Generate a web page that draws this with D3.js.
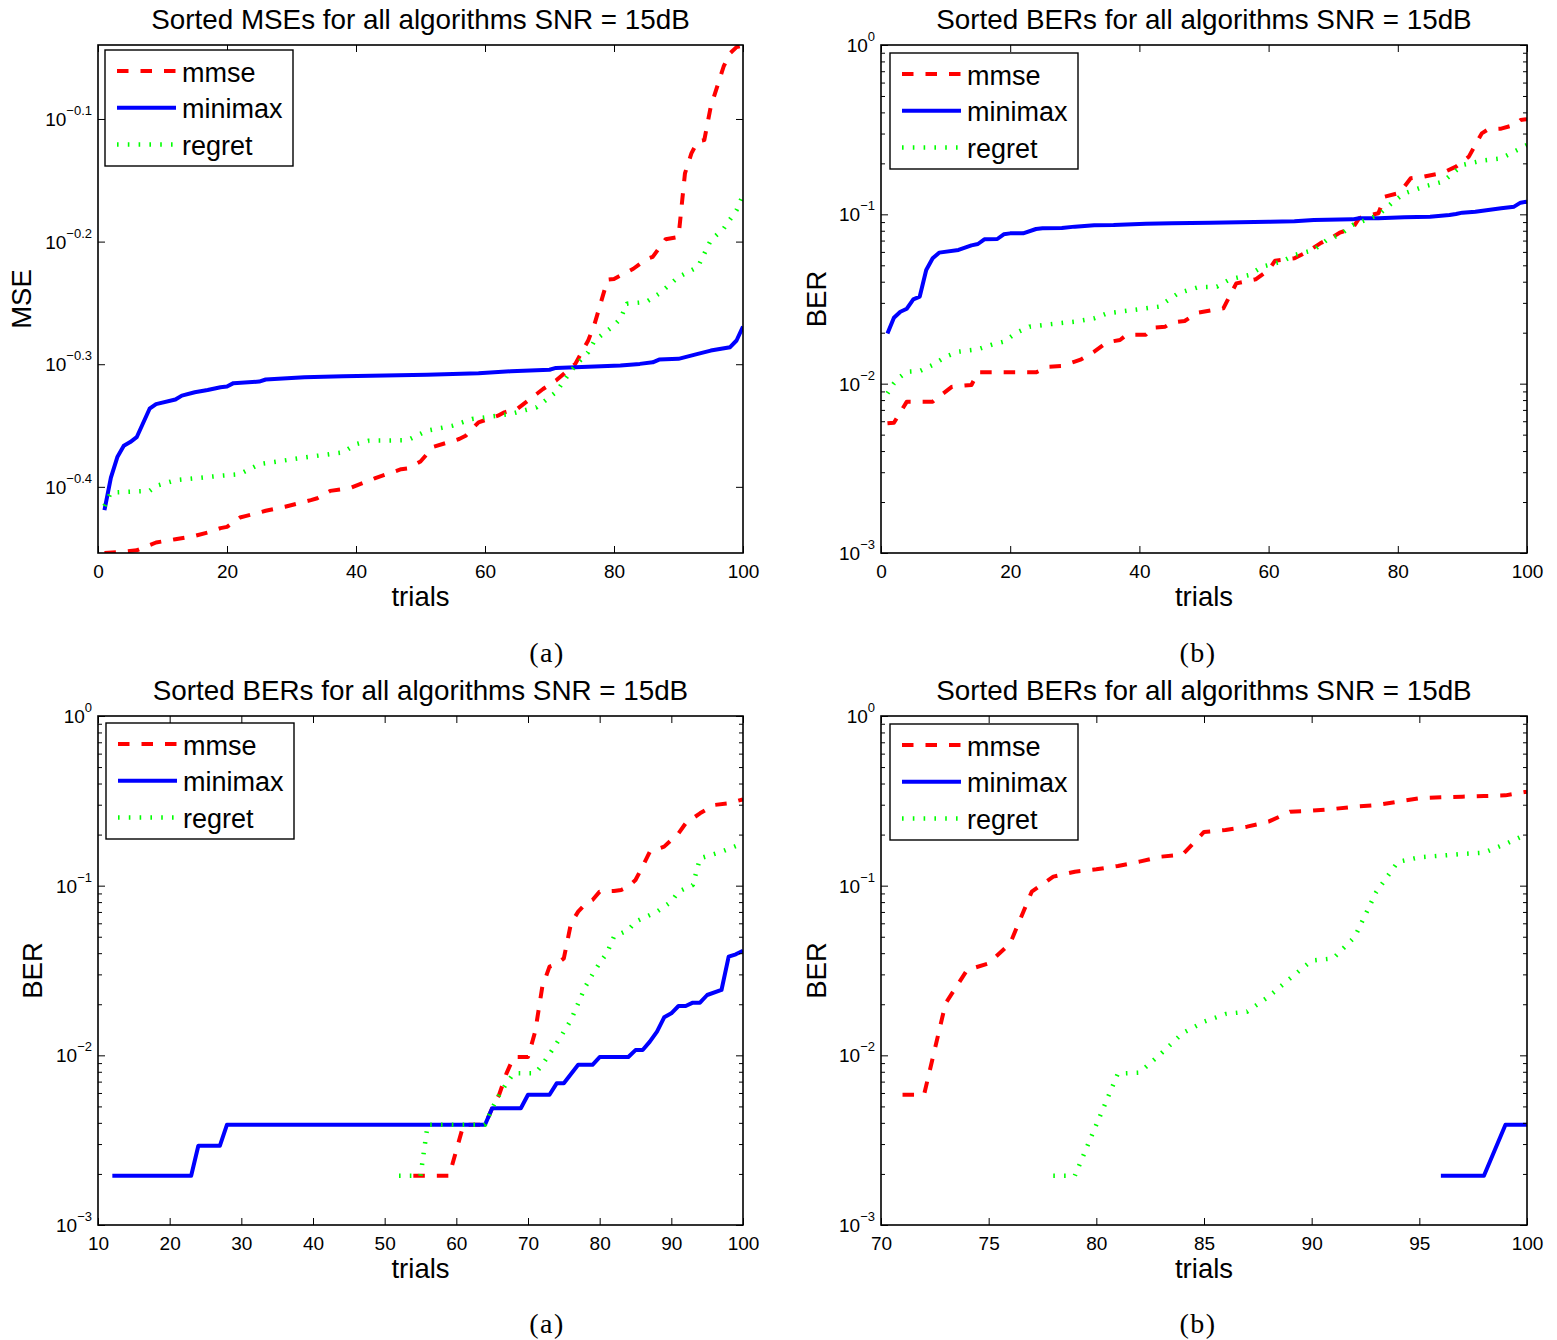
<!DOCTYPE html>
<html>
<head>
<meta charset="utf-8">
<script src="https://cdn.jsdelivr.net/npm/d3@7"></script>
<style>
  body { margin: 0; background: #fff; }
  svg { display: block; }
</style>
</head>
<body>
<svg id="fig" width="1557" height="1340"></svg>
<script>
// ---- data: [trial, value] ----

// (a) top: sorted MSE, 100 trials
var mseMmse = [[1,0.3516],[4,0.3525],[6,0.3534],[9,0.3586],[12,0.3608],[15,0.3631],[17,0.3654],[19,0.3684],[20,0.3693],[22,0.3758],[23,0.3770],[26,0.3806],[29,0.3835],[33,0.3883],[34,0.3897],[36,0.3951],[39,0.3971],[43,0.4047],[47,0.4115],[48,0.4121],[50,0.4175],[52,0.4292],[56,0.4355],[57,0.4382],[59,0.4494],[62,0.4550],[63,0.4579],[65,0.4608],[68,0.4739],[69,0.4784],[71,0.4860],[74,0.5015],[76,0.5240],[77,0.5408],[79,0.5874],[80,0.5882],[83,0.5996],[85,0.6104],[86,0.6131],[88,0.6338],[90,0.6365],[91,0.7171],[92,0.7446],[93,0.7620],[94,0.7635],[95,0.8130],[97,0.8766],[98,0.8988],[99,0.9091],[100,0.9120]];
var mseMinimax = [[1,0.381],[2,0.405],[3,0.421],[4,0.430],[5,0.433],[6,0.437],[8,0.461],[9,0.465],[12,0.469],[13,0.4725],[15,0.4755],[17,0.4775],[19,0.480],[20,0.4806],[21,0.4837],[25,0.4851],[26,0.487],[32,0.489],[38,0.490],[51,0.4913],[59,0.4928],[64,0.4946],[70,0.496],[71,0.4977],[81,0.4999],[84,0.5015],[86,0.503],[87,0.5056],[90,0.5063],[93,0.511],[95,0.5142],[98,0.5175],[99,0.524],[100,0.538]];
var mseRegret = [[1,0.3841],[2,0.3939],[8,0.3951],[9,0.3988],[12,0.4031],[19,0.4065],[22,0.4077],[23,0.4103],[25,0.4154],[32,0.4207],[38,0.4247],[40,0.4314],[42,0.4341],[48,0.4346],[51,0.4424],[55,0.4466],[58,0.4522],[62,0.4550],[64,0.4565],[68,0.4623],[71,0.4755],[73,0.4922],[74,0.4999],[76,0.5126],[77,0.5240],[80,0.5390],[81,0.5460],[82,0.5615],[85,0.5633],[87,0.5722],[90,0.5904],[93,0.6017],[94,0.6169],[95,0.6326],[97,0.6466],[99,0.6693],[100,0.6886]];

// (b) top: sorted BER, 100 trials
var berMmse = [[1,0.00583],[2,0.00588],[4,0.00783],[8,0.00783],[11,0.0096],[14,0.00982],[15,0.01167],[24,0.01167],[26,0.0126],[28,0.01272],[30,0.01349],[31,0.01392],[33,0.01545],[35,0.01754],[37,0.01811],[38,0.01938],[41,0.01947],[42,0.02142],[44,0.02171],[45,0.02292],[47,0.02345],[49,0.02626],[53,0.02786],[55,0.03913],[58,0.04132],[60,0.04691],[61,0.05325],[64,0.05497],[66,0.06019],[68,0.06742],[70,0.0738],[71,0.0779],[73,0.0827],[74,0.0947],[75,0.0978],[77,0.1014],[78,0.1272],[80,0.1330],[81,0.1457],[82,0.1632],[84,0.1669],[87,0.1762],[89,0.1912],[91,0.2191],[93,0.3008],[94,0.3177],[96,0.3206],[98,0.3370],[99,0.3607],[100,0.3650]];
var berMinimax = [[1,0.0198],[2,0.0245],[3,0.0266],[4,0.0277],[5,0.0315],[6,0.0327],[7,0.0469],[8,0.0550],[9,0.0594],[12,0.0616],[14,0.0656],[15,0.0668],[16,0.0712],[18,0.0715],[19,0.0762],[20,0.0772],[22,0.0772],[24,0.0819],[25,0.0827],[28,0.0830],[30,0.0846],[33,0.0861],[36,0.0865],[41,0.0881],[45,0.0885],[51,0.0893],[60,0.0905],[64,0.0909],[67,0.0926],[73,0.0934],[74,0.0947],[77,0.0947],[81,0.0960],[85,0.0969],[88,0.0991],[89,0.1005],[90,0.1023],[92,0.1037],[94,0.1061],[96,0.1085],[98,0.1110],[99,0.1172],[100,0.1188]];
var berRegret = [[1,0.00877],[2,0.01005],[3,0.0110],[4,0.01177],[6,0.01188],[8,0.01289],[10,0.01443],[12,0.01545],[15,0.01595],[17,0.01692],[19,0.0177],[21,0.02001],[23,0.02171],[26,0.02241],[30,0.02324],[33,0.02432],[35,0.02602],[41,0.02786],[43,0.0285],[46,0.03416],[49,0.03706],[52,0.0374],[54,0.04132],[57,0.04382],[59,0.04908],[62,0.05253],[64,0.05752],[67,0.06157],[69,0.07054],[71,0.0755],[73,0.0865],[75,0.0926],[77,0.0991],[79,0.1161],[81,0.1330],[84,0.1457],[87,0.1560],[90,0.1956],[93,0.2074],[96,0.2141],[97,0.2241],[100,0.2567]];

// (a) bottom: sorted BER, trials 10..100
var berMmseC = [[54,0.00195],[59,0.00195],[61,0.0039],[64,0.0039],[65,0.00488],[66,0.0059],[67,0.00783],[68,0.00977],[70,0.00977],[71,0.01379],[72,0.0254],[73,0.0333],[74,0.0345],[75,0.0373],[76,0.0600],[77,0.0703],[78,0.0780],[79,0.0823],[80,0.0922],[82,0.0930],[83,0.0943],[84,0.0987],[85,0.108],[86,0.130],[87,0.1586],[89,0.1698],[91,0.2034],[92,0.2331],[94,0.2669],[96,0.2989],[98,0.3057],[100,0.3227]];
var berMinimaxC = [[12,0.00195],[23,0.00195],[24,0.00293],[27,0.00293],[28,0.0039],[64,0.0039],[65,0.00488],[69,0.00488],[70,0.00586],[73,0.00586],[74,0.00684],[75,0.00684],[77,0.00879],[79,0.00879],[80,0.00977],[84,0.00977],[85,0.01074],[86,0.01074],[87,0.01204],[88,0.01379],[89,0.01675],[90,0.01768],[91,0.01953],[92,0.01953],[93,0.02044],[94,0.02044],[95,0.02268],[97,0.02428],[98,0.03816],[99,0.03938],[100,0.04139]];
var berRegretC = [[52,0.00195],[55,0.00195],[56,0.0039],[64,0.0039],[65,0.00488],[66,0.00586],[67,0.00684],[68,0.00783],[71,0.00783],[72,0.0088],[74,0.01177],[76,0.01615],[77,0.02025],[78,0.02539],[79,0.0300],[80,0.0350],[81,0.0400],[82,0.05005],[84,0.05479],[85,0.0613],[88,0.07028],[90,0.0805],[91,0.0922],[93,0.1009],[94,0.1449],[97,0.1586],[100,0.1776]];

// (b) bottom: sorted BER, trials 70..100
var berMmseD = [[71,0.00586],[72,0.00586],[73,0.02025],[74,0.03184],[75,0.03485],[76,0.04572],[77,0.0922],[78,0.1130],[79,0.1209],[80,0.1248],[81,0.1306],[82,0.1385],[83,0.1482],[84,0.1523],[85,0.2072],[86,0.2129],[87,0.2227],[88,0.2384],[89,0.2730],[90,0.2767],[91,0.2831],[92,0.2922],[93,0.2988],[94,0.3127],[95,0.3271],[96,0.3316],[97,0.3346],[98,0.3376],[99,0.3406],[100,0.3581]];
var berMinimaxD = [[96,0.00195],[97,0.00195],[98,0.00195],[99,0.0039],[100,0.0039]];
var berRegretD = [[78,0.00195],[79,0.00195],[80,0.0039],[81,0.0078],[82,0.0079],[83,0.01023],[84,0.01348],[85,0.01579],[86,0.01752],[87,0.01809],[88,0.02217],[89,0.02843],[90,0.03614],[91,0.0373],[92,0.04982],[93,0.09178],[94,0.1379],[95,0.1469],[96,0.1503],[97,0.1538],[98,0.1565],[99,0.176],[100,0.2016]];

// ticks and labels
var xTicksTop = [0, 20, 40, 60, 80, 100];
var xTicksC = [10, 20, 30, 40, 50, 60, 70, 80, 90, 100];
var xTicksD = [70, 75, 80, 85, 90, 95, 100];
var yExpMse = [-0.1, -0.2, -0.3, -0.4];
var yExpBer = [0, -1, -2, -3];
var legendNames = ["mmse", "minimax", "regret"];

var FONT = '"Liberation Sans", Arial, Helvetica, sans-serif';

var styles = [
  { color: "#ff0000", width: 4, dash: "11.5,12" },
  { color: "#0000ff", width: 4, dash: null },
  { color: "#00ff00", width: 4.5, dash: "1.6,9.2" }
];

var panels = [
  { left: 98, right: 743, top: 45, bottom: 553, title: "Sorted MSEs for all algorithms SNR = 15dB",
    ylabel: "MSE", ylabelGap: 67, xDomain: [0, 100], xTicks: xTicksTop,
    yDomain: [0.3516, 0.9127], yExp: yExpMse, minor: false, legend: [105, 50],
    series: [mseMmse, mseMinimax, mseRegret], caption: "(a)", capX: 547, capY: 662 },
  { left: 881, right: 1527, top: 45, bottom: 553, title: "Sorted BERs for all algorithms SNR = 15dB",
    ylabel: "BER", ylabelGap: 55, xDomain: [0, 100], xTicks: xTicksTop,
    yDomain: [0.001, 1], yExp: yExpBer, minor: true, legend: [890, 53],
    series: [berMmse, berMinimax, berRegret], caption: "(b)", capX: 1198, capY: 662 },
  { left: 98, right: 743, top: 716, bottom: 1225, title: "Sorted BERs for all algorithms SNR = 15dB",
    ylabel: "BER", ylabelGap: 56, xDomain: [10, 100], xTicks: xTicksC,
    yDomain: [0.001, 1], yExp: yExpBer, minor: true, legend: [106, 723],
    series: [berMmseC, berMinimaxC, berRegretC], caption: "(a)", capX: 547, capY: 1333 },
  { left: 881, right: 1527, top: 716, bottom: 1225, title: "Sorted BERs for all algorithms SNR = 15dB",
    ylabel: "BER", ylabelGap: 55, xDomain: [70, 100], xTicks: xTicksD,
    yDomain: [0.001, 1], yExp: yExpBer, minor: true, legend: [890, 724],
    series: [berMmseD, berMinimaxD, berRegretD], caption: "(b)", capX: 1198, capY: 1333 }
];

var svg = d3.select("#fig");
var defs = svg.append("defs");

function minusText(e) {
  return String(e).replace("-", "\u2212");
}

function styleAxis(sel) {
  sel.select(".domain").remove();
  sel.selectAll(".tick line").attr("stroke", "#000").attr("stroke-width", 1);
  sel.attr("font-family", FONT).attr("font-size", 19);
  sel.selectAll(".tick text").attr("fill", "#000");
}

panels.forEach(function(p, i) {
  var x = d3.scaleLinear().domain(p.xDomain).range([p.left, p.right]);
  var y = d3.scaleLog().domain(p.yDomain).range([p.bottom, p.top]);
  var g = svg.append("g");

  defs.append("clipPath").attr("id", "clip" + i)
    .append("rect")
    .attr("x", p.left).attr("y", p.top)
    .attr("width", p.right - p.left).attr("height", p.bottom - p.top);

  // curves
  var line = d3.line()
    .x(function(d) { return x(d[0]); })
    .y(function(d) { return y(d[1]); });

  var lines = g.append("g").attr("clip-path", "url(#clip" + i + ")");
  p.series.forEach(function(s, k) {
    lines.append("path")
      .datum(s)
      .attr("d", line)
      .attr("fill", "none")
      .attr("stroke", styles[k].color)
      .attr("stroke-width", styles[k].width)
      .attr("stroke-dasharray", styles[k].dash)
      .attr("stroke-linejoin", "round");
  });

  // axes, ticks pointing inward on all four sides
  var yTickVals = p.yExp.map(function(e) { return Math.pow(10, e); });

  g.append("g")
    .attr("transform", "translate(0," + p.bottom + ")")
    .call(d3.axisBottom(x).tickValues(p.xTicks).tickSize(-7).tickPadding(11.5))
    .call(styleAxis);

  g.append("g")
    .attr("transform", "translate(0," + p.top + ")")
    .call(d3.axisTop(x).tickValues(p.xTicks).tickSize(-7).tickFormat(""))
    .call(styleAxis);

  g.append("g")
    .attr("transform", "translate(" + p.left + ",0)")
    .call(d3.axisLeft(y).tickValues(yTickVals).tickSize(-7).tickFormat(""))
    .call(styleAxis);

  g.append("g")
    .attr("transform", "translate(" + p.right + ",0)")
    .call(d3.axisRight(y).tickValues(yTickVals).tickSize(-7).tickFormat(""))
    .call(styleAxis);

  if (p.minor) {
    var minors = [];
    [-3, -2, -1].forEach(function(k) {
      for (var d = 2; d <= 9; d++) minors.push(d * Math.pow(10, k));
    });
    g.append("g")
      .attr("transform", "translate(" + p.left + ",0)")
      .call(d3.axisLeft(y).tickValues(minors).tickSize(-4).tickFormat(""))
      .call(styleAxis);
    g.append("g")
      .attr("transform", "translate(" + p.right + ",0)")
      .call(d3.axisRight(y).tickValues(minors).tickSize(-4).tickFormat(""))
      .call(styleAxis);
  }

  // y tick labels as 10^e
  p.yExp.forEach(function(e) {
    var t = g.append("text")
      .attr("x", p.left - 6)
      .attr("y", y(Math.pow(10, e)) + 7)
      .attr("text-anchor", "end")
      .attr("font-family", FONT)
      .attr("font-size", 19)
      .attr("fill", "#000");
    t.append("tspan").text("10");
    t.append("tspan").attr("dy", -11).attr("font-size", 13).text(minusText(e));
  });

  // frame
  g.append("rect")
    .attr("x", p.left).attr("y", p.top)
    .attr("width", p.right - p.left).attr("height", p.bottom - p.top)
    .attr("fill", "none").attr("stroke", "#000").attr("stroke-width", 1.6);

  var cx = (p.left + p.right) / 2;

  g.append("text")
    .attr("x", cx).attr("y", p.top - 16)
    .attr("text-anchor", "middle")
    .attr("font-family", FONT).attr("font-size", 27.8)
    .text(p.title);

  g.append("text")
    .attr("x", cx).attr("y", p.bottom + 53)
    .attr("text-anchor", "middle")
    .attr("font-family", FONT).attr("font-size", 27.5)
    .text("trials");

  g.append("text")
    .attr("transform", "translate(" + (p.left - p.ylabelGap) + "," + ((p.top + p.bottom) / 2) + ") rotate(-90)")
    .attr("text-anchor", "middle")
    .attr("font-family", FONT).attr("font-size", 27.5)
    .text(p.ylabel);

  // legend
  var lx = p.legend[0], ly = p.legend[1];
  var lg = g.append("g");
  lg.append("rect")
    .attr("x", lx).attr("y", ly).attr("width", 188).attr("height", 116)
    .attr("fill", "#fff").attr("stroke", "#000").attr("stroke-width", 1.4);
  legendNames.forEach(function(name, k) {
    var ry = ly + 21 + k * 36.75;
    lg.append("line")
      .attr("x1", lx + 12).attr("x2", lx + 71)
      .attr("y1", ry).attr("y2", ry)
      .attr("stroke", styles[k].color)
      .attr("stroke-width", styles[k].width)
      .attr("stroke-dasharray", styles[k].dash);
    lg.append("text")
      .attr("x", lx + 77).attr("y", ry + 10.5)
      .attr("font-family", FONT).attr("font-size", 27)
      .text(name);
  });

  // sub-figure caption
  svg.append("text")
    .attr("x", p.capX).attr("y", p.capY)
    .attr("text-anchor", "middle")
    .attr("font-family", '"Liberation Serif", "Times New Roman", serif')
    .attr("font-size", 28)
    .attr("letter-spacing", 1.5)
    .text(p.caption);
});
</script>
</body>
</html>
